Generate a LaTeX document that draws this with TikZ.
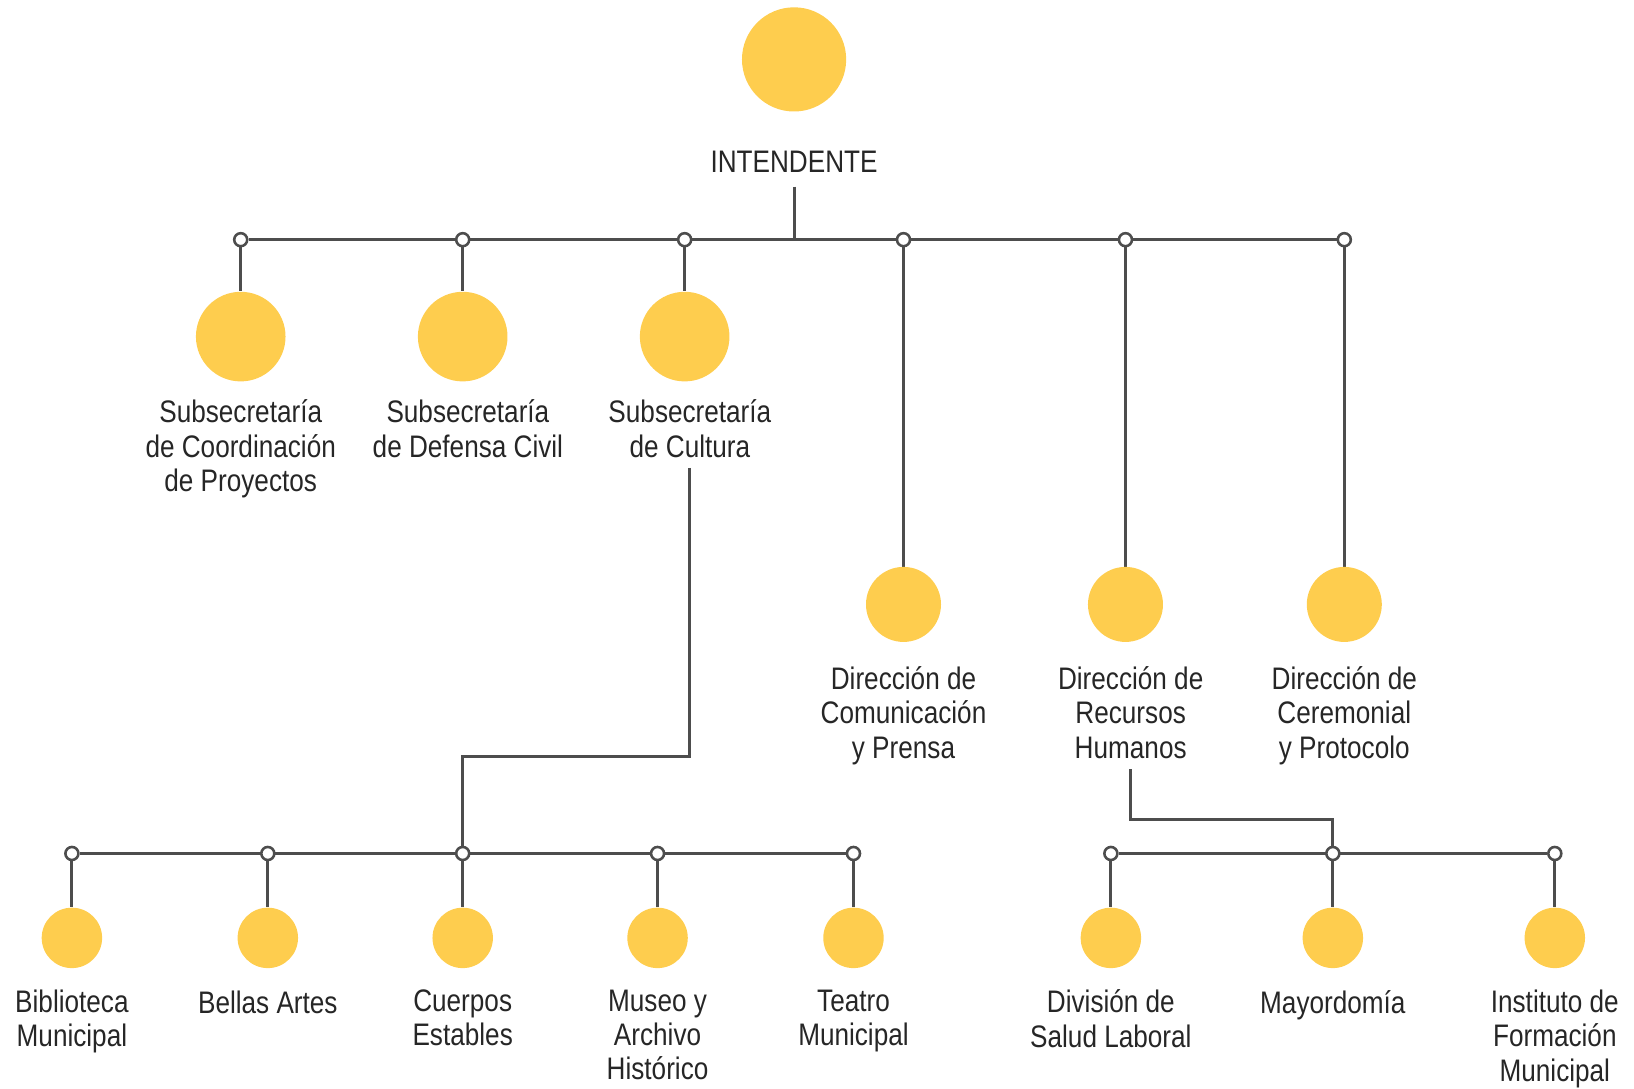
\documentclass[tikz,border=0pt]{standalone}
\usepackage{fontspec}
\setmainfont{Liberation Sans}[FakeStretch=0.84]
\usetikzlibrary
  {
    positioning,  % place names below their circles
    backgrounds,  % wires behind the junction dots
  }
\definecolor{unitYellow}{HTML}{FECD4E}
\definecolor{wireGray}{HTML}{4D4D4D}
\definecolor{inkGray}{HTML}{262626}

\begin{document}
\begin{tikzpicture}[x=0.02cm,y=-0.02cm,
    wire/.style={draw=wireGray,line width=1.6pt},
    joint/.style={circle,draw=wireGray,fill=white,line width=1.4pt,inner sep=0,minimum size=0.25cm},
    unit/.style={circle,fill=unitYellow,inner sep=0,minimum size=#1},
    unit/.default=1.16cm,
    tag/.style={align=center,inner sep=0,text=inkGray,
      font=\fontsize{17}{18.8}\selectfont,
      execute at begin node=\strut,execute at end node=\strut},
  ]
  \useasboundingbox (0,0) rectangle (1568,1045);

  % head
  \node (chief) [unit=2cm] at (762,57) {};
  \node (chiefName) [tag,below=0.7cm of chief] {INTENDENTE};

  % first level
  \foreach \n/\x in {j1/231,j2/444,j3/657,j4/867,j5/1080,j6/1290}
    \node (\n) [joint] at (\x,230) {};

  \node (subCoord) [unit=1.72cm] at (231,323) {};
  \node (subDef)   [unit=1.72cm] at (444,323) {};
  \node (subCult)  [unit=1.72cm] at (657,323) {};
  \node (dirCom)   [unit=1.44cm] at (867,580) {};
  \node (dirRRHH)  [unit=1.44cm] at (1080,580) {};
  \node (dirCer)   [unit=1.44cm] at (1290,580) {};

  \node (subCoordName) [tag,below=0.34cm of subCoord] {Subsecretaría\\de Coordinación\\de Proyectos};
  \node (subDefName)   [tag,below=0.34cm of subDef,xshift=0.1cm] {Subsecretaría\\de Defensa Civil};
  \node (subCultName)  [tag,below=0.34cm of subCult,xshift=0.1cm] {Subsecretaría\\de Cultura};
  \node (dirComName)   [tag,below=0.46cm of dirCom] {Dirección de\\Comunicación\\y Prensa};
  \node (dirRRHHName)  [tag,below=0.46cm of dirRRHH,xshift=0.1cm] {Dirección de\\Recursos\\Humanos};
  \node (dirCerName)   [tag,below=0.46cm of dirCer] {Dirección de\\Ceremonial\\y Protocolo};

  % culture branch
  \foreach \n/\x in {jb1/69,jb2/257,jb3/444,jb4/631,jb5/819}
    \node (\n) [joint] at (\x,819) {};

  \node (bib)     [unit] at (69,900) {};
  \node (bellas)  [unit] at (257,900) {};
  \node (cuerpos) [unit] at (444,900) {};
  \node (museo)   [unit] at (631,900) {};
  \node (teatro)  [unit] at (819,900) {};

  \node (bibName)     [tag,below=0.4cm of bib] {Biblioteca\\Municipal};
  \node (bellasName)  [tag,below=0.4cm of bellas] {Bellas Artes};
  \node (cuerposName) [tag,below=0.4cm of cuerpos] {Cuerpos\\Estables};
  \node (museoName)   [tag,below=0.4cm of museo] {Museo y\\Archivo\\Histórico};
  \node (teatroName)  [tag,below=0.4cm of teatro] {Teatro\\Municipal};

  % human resources branch
  \foreach \n/\x in {jr1/1066,jr2/1279,jr3/1492}
    \node (\n) [joint] at (\x,819) {};

  \node (salud) [unit] at (1066,900) {};
  \node (mayor) [unit] at (1279,900) {};
  \node (inst)  [unit] at (1492,900) {};

  \node (saludName) [tag,below=0.4cm of salud] {División de\\Salud Laboral};
  \node (mayorName) [tag,below=0.4cm of mayor] {Mayordomía};
  \node (instName)  [tag,below=0.4cm of inst] {Instituto de\\Formación\\Municipal};

  \coordinate (cultBend) at (444,726);
  \coordinate (rrhhBend) at (1279,786);

  \begin{pgfonlayer}{background}
    \draw[wire,shorten <=0.06cm] (chiefName.south) -- (chiefName.south |- j1);
    \draw[wire] (j1) -- (j6);
    \foreach \a/\b in {j1/subCoord,j2/subDef,j3/subCult,j4/dirCom,j5/dirRRHH,j6/dirCer}
      \draw[wire] (\a) -- (\b);

    \draw[wire] (subCultName.south) |- (cultBend) -- (jb3);
    \draw[wire] (jb1) -- (jb5);
    \foreach \a/\b in {jb1/bib,jb2/bellas,jb3/cuerpos,jb4/museo,jb5/teatro}
      \draw[wire] (\a) -- (\b);

    \draw[wire] (dirRRHHName.south) |- (rrhhBend) -- (jr2);
    \draw[wire] (jr1) -- (jr3);
    \foreach \a/\b in {jr1/salud,jr2/mayor,jr3/inst}
      \draw[wire] (\a) -- (\b);
  \end{pgfonlayer}
\end{tikzpicture}
\end{document}
